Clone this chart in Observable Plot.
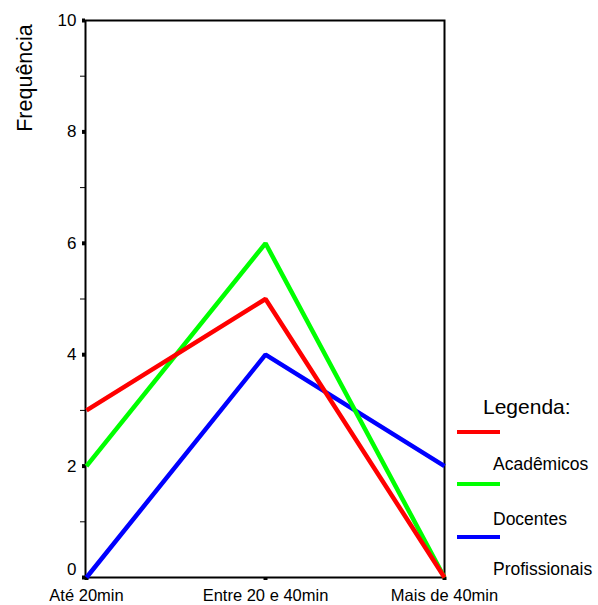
<!DOCTYPE html>
<html>
<head>
<meta charset="utf-8">
<script src="https://cdn.jsdelivr.net/npm/d3@7"></script>
<script src="https://cdn.jsdelivr.net/npm/@observablehq/plot@0.6"></script>
<style>
  html, body { margin: 0; padding: 0; background: #fff; }
  #wrap { position: relative; width: 598px; height: 605px; font-family: "Liberation Sans", Arial, sans-serif; }
  #legend { position: absolute; left: 0; top: 0; width: 598px; height: 605px; pointer-events: none; }
  .lt { position: absolute; white-space: nowrap; color: #000; line-height: 1.15; }
  .ls { position: absolute; height: 4px; width: 43px; }
</style>
</head>
<body>
<div id="wrap"><div id="chart"></div><div id="legend"></div></div>
<script>
const categories = ["Até 20min", "Entre 20 e 40min", "Mais de 40min"];
const seriesNames = ["Acadêmicos", "Docentes", "Profissionais"];
const seriesColors = ["#ff0000", "#00ff00", "#0000ff"];
const academicos = [3, 5, 0];
const docentes = [2, 6, 0];
const profissionais = [0, 4, 2];
const yMajorTicks = [0, 2, 4, 6, 8, 10];
const yMinorTicks = [1, 3, 5, 7, 9];
const yLabel = "Frequência";
const legendTitle = "Legenda:";

const seriesValues = [academicos, docentes, profissionais];
const rows = [];
seriesValues.forEach((vals, i) => vals.forEach((v, j) => rows.push({series: seriesNames[i], cat: categories[j], value: v})));
// draw order: blue, green, red (red on top)
const drawOrder = [2, 1, 0];

const marks = [];
for (const i of drawOrder) {
  marks.push(Plot.line(rows.filter(r => r.series === seriesNames[i]), {
    x: "cat", y: "value", stroke: seriesColors[i], strokeWidth: 4.5, strokeLinejoin: "miter", strokeLinecap: "butt"
  }));
}

const chart = Plot.plot({
  width: 598,
  height: 605,
  marginLeft: 85,
  marginRight: 154,
  marginTop: 20,
  marginBottom: 28,
  style: {fontFamily: "'Liberation Sans', Arial, sans-serif", fontSize: "17px", color: "#000", background: "#fff", overflow: "visible"},
  x: {type: "point", domain: categories, padding: 0, axis: null},
  y: {domain: [0, 10], axis: null},
  marks: [
    Plot.axisY({ticks: yMinorTicks, tickSize: 5, text: null, strokeWidth: 1, label: null}),
    Plot.axisY({ticks: yMajorTicks.filter(t => t !== 0), tickSize: 3, strokeWidth: 4, tickPadding: 6, fontSize: 17, label: null, tickFormat: d => String(d)}),
    Plot.axisY({ticks: [0], tickSize: 3, strokeWidth: 4, tickPadding: 6, fontSize: 17, label: null, text: null}),
    Plot.axisY({ticks: [0], tickSize: 3, strokeWidth: 0, tickPadding: 6, fontSize: 17, label: null, dy: -8, tickFormat: d => String(d)}),
    Plot.axisX({ticks: categories, tickSize: 3, strokeWidth: 4, tickPadding: 9, fontSize: 16.5, label: null}),
    Plot.frame({stroke: "#000", strokeWidth: 2}),
    ...marks
  ]
});
document.getElementById("chart").appendChild(chart);

// y label
const svg = d3.select(chart);
svg.append("text")
  .attr("transform", "translate(32,78) rotate(-90)")
  .attr("text-anchor", "middle")
  .attr("font-size", 21.5)
  .attr("fill", "#000")
  .attr("font-family", "'Liberation Sans', Arial, sans-serif")
  .text(yLabel);

// legend (HTML overlay)
const leg = document.getElementById("legend");
function addText(txt, x, y, size) {
  const d = document.createElement("div");
  d.className = "lt"; d.textContent = txt;
  d.style.left = x + "px"; d.style.top = y + "px"; d.style.fontSize = size + "px";
  leg.appendChild(d);
}
addText(legendTitle, 483, 395, 21);
const swatchY = [430, 482, 535];
const labelY = [454, 509, 559];
seriesNames.forEach((name, i) => {
  const s = document.createElement("div");
  s.className = "ls"; s.style.background = seriesColors[i];
  s.style.left = "457px"; s.style.top = swatchY[i] + "px";
  leg.appendChild(s);
  addText(name, 493, labelY[i], 17.5);
});
</script>
</body>
</html>
